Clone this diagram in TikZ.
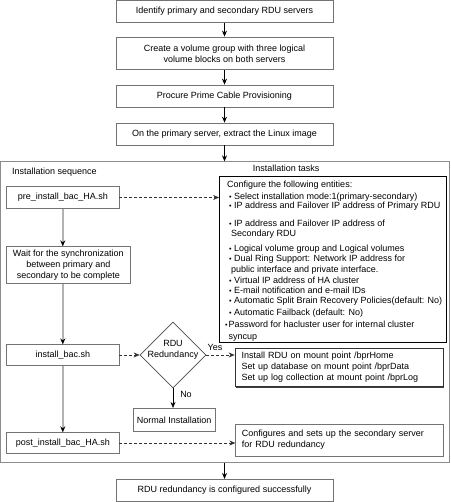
\documentclass[tikz,border=0pt]{standalone}
\usepackage{fontspec}
\setmainfont{Liberation Sans}
\usetikzlibrary{arrows.meta,shapes.geometric,shadows}
\newcommand{\tbul}{\makebox[5pt][l]{\scalebox{0.8}{•}}}
\newcommand{\tbulsm}{\makebox[3.5pt][l]{\scalebox{0.8}{•}}}
\begin{document}
\begin{tikzpicture}[x=1pt,y=-1pt,
  font=\fontsize{9}{11}\selectfont,
  box/.style={draw=black!55, line width=0.7pt, inner sep=0pt, align=center},
  cont/.style={draw=black!45, line width=0.7pt, inner sep=0pt},
  tbox/.style={draw=black, line width=0.8pt, inner sep=0pt},
  rbox/.style={draw=black!80, line width=0.7pt, inner sep=0pt, fill=white,
     drop shadow={shadow xshift=1.3pt, shadow yshift=-1.3pt, fill=black!75, opacity=1}},
  tl/.style={anchor=west, inner sep=0pt, text height=6.5pt, text depth=2pt},
  lab/.style={inner sep=0pt, text height=6.5pt, text depth=2pt},
  arr/.style={-{Stealth[length=6pt,width=5pt]}, line width=0.7pt, black},
  garr/.style={-{Stealth[length=6pt,width=5pt,color=black]}, line width=1.6pt, black!30},
  darr/.style={-{Stealth[length=6pt,width=5pt]}, line width=0.6pt, black!80, dash pattern=on 3pt off 2pt}
]
\useasboundingbox (0,0) rectangle (450,502);

% top sequence
\node[box, minimum width=217pt, minimum height=22pt] (b1) at (224.5,11.6) {Identify primary and secondary RDU servers};
\node[box, minimum width=217pt, minimum height=32.7pt] (b2) at (224.5,53.3) {Create a volume group with three logical\\volume blocks on both servers};
\node[box, minimum width=217pt, minimum height=22pt] (b3) at (224.5,96) {Procure Prime Cable Provisioning};
\node[box, minimum width=217pt, minimum height=22pt] (b4) at (224.5,134) {On the primary server, extract the Linux image};

% container
\node[cont, minimum width=448.5pt, minimum height=301pt] (cont) at (224.75,312.2) {};
\node[box, minimum width=217pt, minimum height=22.2pt] (fin) at (224.5,490.4) {RDU redundancy is configured successfully};

\node[lab, anchor=west] (lseq) at (12,172) {Installation sequence};
\node[lab, anchor=west] (ltask) at (252.7,169.5) {Installation tasks};

% installation sequence
\node[box, minimum width=112.3pt, minimum height=21.6pt] (pre) at (62.8,197.5) {pre\_install\_bac\_HA.sh};
\node[box, minimum width=123.3pt, minimum height=36.6pt] (wait) at (68.3,265) {Wait for the synchronization\\between primary and\\secondary to be complete};
\node[box, minimum width=112.3pt, minimum height=20.5pt] (inst) at (62.8,355) {install\_bac.sh};
\node[box, minimum width=112.3pt, minimum height=20.6pt] (post) at (62.8,443) {post\_install\_bac\_HA.sh};

% tasks
\node[tbox, minimum width=226.5pt, minimum height=165.3pt] (tasks) at (332.75,259.35) {};
\node[tl] (t1) at (227,185.5) {Configure the following entities:};
\node[tl] (t2) at (229,197) {\tbul Select installation mode:1(primary-secondary)};
\node[tl] (t3) at (229,206.5) {\tbul IP address and Failover IP address of Primary RDU};
\node[tl] (t4) at (229,224.5) {\tbul IP address and Failover IP address of};
\node[tl] (t5) at (231,234.5) {Secondary RDU};
\node[tl] (t6) at (229,249.5) {\tbul Logical volume group and Logical volumes};
\node[tl] (t7) at (229,259.5) {\tbul Dual Ring Support: Network IP address for};
\node[tl] (t8) at (231,270) {public interface and private interface.};
\node[tl] (t9) at (229,281) {\tbul Virtual IP address of HA cluster};
\node[tl] (t10) at (229,291) {\tbul E-mail notification and e-mail IDs};
\node[tl] (t11) at (229,301) {\tbul Automatic Split Brain Recovery Policies(default: No)};
\node[tl] (t12) at (229,313.5) {\tbul Automatic Failback (default: No)};
\node[tl] (t13) at (225,325.5) {\tbulsm Password for hacluster user for internal cluster};
\node[tl] (t14) at (228.5,337.5) {syncup};

% decision
\node[diamond, draw=black!70, line width=0.7pt, minimum width=66pt, minimum height=66pt, inner sep=0pt] (dia) at (173,355) {};
\node[align=center, inner sep=0pt] (diat) at (173,350) {RDU\\Redundancy};
\node[lab] (yes) at (215,348.5) {Yes};
\node[lab] (no) at (186,395) {No};
\node[rbox, minimum width=208pt, minimum height=38.4pt, text width=195pt, align=left] (rdu) at (339,367.5) {Install RDU on mount point /bprHome\\Set up database on mount point /bprData\\Set up log collection at mount point /bprLog};
\node[box, minimum width=81.7pt, minimum height=23.4pt] (norm) at (174.2,420) {Normal Installation};
\node[box, minimum width=207.3pt, minimum height=32pt, text width=195pt, align=left] (conf) at (339.35,440) {Configures and sets up the secondary server\\for RDU redundancy};

% connectors
\draw[arr] (b1) -- (b2);
\draw[arr] (b2) -- (b3);
\draw[arr] (b3) -- (b4);
\draw[arr] (b4.south) -- (b4.south |- cont.north);
\draw[arr] (cont.south -| fin.north) -- (fin.north);

\draw[garr] (pre.south) -- (pre.south |- wait.north);
\draw[garr] (wait.south -| pre.south) -- (inst.north);
\draw[garr] (inst.south) -- (post.north);

\draw[darr] (pre.east) -- (pre.east -| tasks.west);
\draw[darr] (inst.east) -- (dia.west);
\draw[darr] (dia.east) -- (dia.east -| rdu.west);
\draw[darr] (post.east) -- (post.east -| conf.west);
\draw[arr] (dia.south) -- (dia.south |- norm.north);
\end{tikzpicture}
\end{document}
